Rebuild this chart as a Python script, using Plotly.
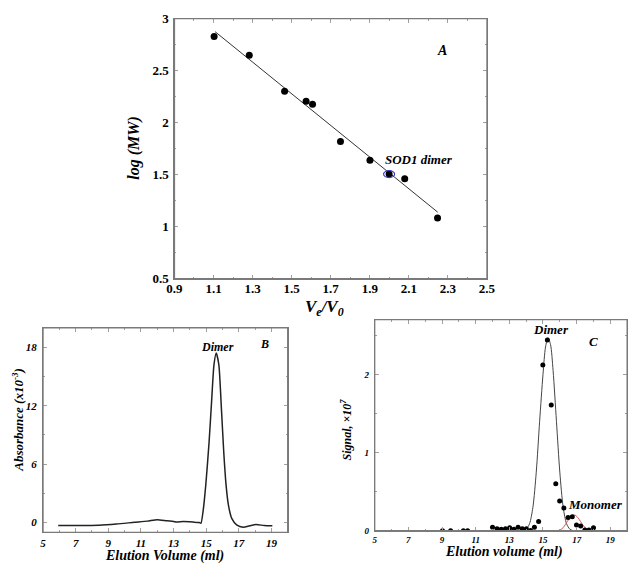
import plotly.graph_objects as go

# ---------------- Panel A data ----------------
a_ratio = [1.103, 1.283, 1.464, 1.574, 1.607, 1.750, 1.901, 1.999, 2.079, 2.247]
a_logmw = [2.829, 2.648, 2.303, 2.206, 2.178, 1.820, 1.640, 1.506, 1.462, 1.085]
a_fit_x = [1.108, 2.248]
a_fit_y = [2.875, 1.140]
sod_x = [1.999]
sod_y = [1.506]
a_xticks = [0.9, 1.1, 1.3, 1.5, 1.7, 1.9, 2.1, 2.3, 2.5]
a_xticklabels = ["0.9", "1.1", "1.3", "1.5", "1.7", "1.9", "2.1", "2.3", "2.5"]
a_yticks = [0.5, 1, 1.5, 2, 2.5, 3]
a_yticklabels = ["0.5", "1", "1.5", "2", "2.5", "3"]

# ---------------- Panel B data ----------------
b_vol = [5.93, 7.0, 8.42, 9.5, 10.6, 11.4, 12.0, 12.6, 13.0, 13.19, 13.6, 14.2, 14.58, 14.68,
         14.82, 14.98, 15.18, 15.34, 15.48, 15.62, 15.78, 15.94, 16.08, 16.22, 16.37, 16.57,
         16.87, 17.27, 17.67, 18.06, 18.56, 19.06]
b_abs = [-0.30, -0.30, -0.27, -0.15, 0.03, 0.15, 0.30, 0.18, 0.12, 0.05, 0.10, 0.05, 0.0, -0.07,
         1.26, 3.9, 8.25, 12.6, 16.2, 17.4, 16.2, 11.6, 7.25, 3.9, 1.76, 0.43,
         -0.23, -0.47, -0.33, -0.20, -0.30, -0.33]
b_xticks = [5, 7, 9, 11, 13, 15, 17, 19]
b_xticklabels = ["5", "7", "9", "11", "13", "15", "17", "19"]
b_yticks = [0, 6, 12, 18]
b_yticklabels = ["0", "6", "12", "18"]

# ---------------- Panel C data ----------------
c_vol = [9.03, 9.51, 10.27, 10.52, 12.0, 12.27, 12.52, 12.77, 13.02, 13.27, 13.52, 13.77, 14.01,
         14.26, 14.49, 14.74, 14.99, 15.26, 15.49, 15.76, 15.99, 16.24, 16.49, 16.74, 16.99,
         17.24, 17.49, 17.73, 18.0]
c_sig = [0.0, 0.0, 0.0, 0.0, 0.046, 0.025, 0.02, 0.025, 0.04, 0.02, 0.046, 0.025, 0.025,
         0.004, 0.046, 0.12, 2.12, 2.44, 1.61, 0.60, 0.38, 0.29, 0.17, 0.18, 0.075,
         0.06, 0.01, 0.01, 0.04]
dimer_fit_x = [13.8, 14.0, 14.2, 14.4, 14.6, 14.8, 15.0, 15.15, 15.3, 15.45, 15.6, 15.8, 16.0,
               16.2, 16.4, 16.6, 16.8]
dimer_fit_y = [0.0, 0.02, 0.09, 0.30, 0.75, 1.40, 2.00, 2.35, 2.47, 2.38, 2.05, 1.40, 0.75,
               0.30, 0.09, 0.02, 0.0]
mono_fit_x = [15.95, 16.2, 16.45, 16.7, 16.9, 17.1, 17.35, 17.6, 17.85]
mono_fit_y = [0.0, 0.04, 0.12, 0.19, 0.20, 0.16, 0.08, 0.02, 0.0]
c_xticks = [5, 7, 9, 11, 13, 15, 17, 19]
c_xticklabels = ["5", "7", "9", "11", "13", "15", "17", "19"]
c_yticks = [0, 1, 2]
c_yticklabels = ["0", "1", "2"]

FONT = "Liberation Serif"
LINE = "#7a7a7a"
TICK = "#a0a0a0"

fig = go.Figure()

# Panel A
fig.add_trace(go.Scatter(x=a_fit_x, y=a_fit_y, mode="lines",
                         line=dict(color="#333333", width=1), xaxis="x", yaxis="y",
                         showlegend=False, hoverinfo="skip"))
fig.add_trace(go.Scatter(x=a_ratio, y=a_logmw, mode="markers",
                         marker=dict(color="black", size=7), xaxis="x", yaxis="y",
                         showlegend=False))

# Panel B
fig.add_trace(go.Scatter(x=b_vol, y=b_abs, mode="lines",
                         line=dict(color="#222222", width=1.5, shape="spline", smoothing=0.6),
                         xaxis="x2", yaxis="y2", showlegend=False))

# Panel C
fig.add_trace(go.Scatter(x=dimer_fit_x, y=dimer_fit_y, mode="lines",
                         line=dict(color="#444444", width=1, shape="spline", smoothing=0.8),
                         xaxis="x3", yaxis="y3", showlegend=False))
fig.add_trace(go.Scatter(x=mono_fit_x, y=mono_fit_y, mode="lines",
                         line=dict(color="#d05050", width=1, shape="spline", smoothing=0.8),
                         xaxis="x3", yaxis="y3", showlegend=False))
fig.add_trace(go.Scatter(x=c_vol, y=c_sig, mode="markers",
                         marker=dict(color="black", size=5),
                         xaxis="x3", yaxis="y3", showlegend=False))


def axis(domain, rng, tickvals, ticktext, minor_dtick, anchor, fsize, italic, standoff):
    return dict(domain=domain, range=rng, anchor=anchor,
                tickmode="array", tickvals=tickvals, ticktext=ticktext,
                ticks="inside", ticklen=4, tickcolor=TICK, tickwidth=1,
                minor=dict(ticks="inside", ticklen=2, tickcolor=TICK, dtick=minor_dtick, showgrid=False),
                showline=True, linecolor=LINE, linewidth=1, mirror="allticks",
                showgrid=False, zeroline=False,
                tickfont=dict(family=FONT, size=fsize, color="black", weight="bold",
                              style="italic" if italic else "normal"),
                ticklabelstandoff=standoff)


W, H = 641, 579
def px(x0, x1):
    return [x0 / W, x1 / W]
def py(y_top, y_bot):
    return [1 - y_bot / H, 1 - y_top / H]

xa = axis(px(171, 492), [0.9, 2.5], a_xticks, a_xticklabels, 0.1, "y", 13, False, -2)
ya = axis(py(12, 279), [0.5, 3], a_yticks, a_yticklabels, 0.25, "x", 13, False, 2)
xb = axis(px(36, 287.3), [5, 20], b_xticks, b_xticklabels, 1, "y2", 11, True, 0)
yb = axis(py(329.3, 539.3), [-1, 20], b_yticks, b_yticklabels, 3, "x2", 11, True, 3)
xc = axis(px(376.7, 636), [5, 20], c_xticks, c_xticklabels, 1, "y3", 9, True, 0)
yc = axis(py(321, 537.7), [0, 2.7], c_yticks, c_yticklabels, 0.5, "x3", 9, True, 3)


def ann_font(s):
    return dict(family=FONT, size=s, color="black", weight="bold", style="italic")


def label(x, y, text, size, xref, yref, angle=0):
    return dict(x=x, y=y, xref=xref, yref=yref, text=text, showarrow=False,
                xanchor="center", yanchor="middle", textangle=angle, font=ann_font(size))


annotations = [
    # panel A
    label(2.27, 2.69, "A", 14, "x", "y"),
    label(2.15, 1.645, "SOD1 dimer", 13, "x", "y"),
    label(325 / W, 1 - 309 / H, "V<sub>e</sub>/V<sub>0</sub>", 17, "paper", "paper"),
    label(130 / W, 1 - 145 / H, "log (MW)", 16, "paper", "paper", -90),
    # panel B
    label(15.67, 18.0, "Dimer", 12, "x2", "y2"),
    label(18.56, 18.3, "B", 12, "x2", "y2"),
    label(161 / W, 1 - 564 / H, "Elution Volume (ml)", 14, "paper", "paper"),
    label(10 / W, 1 - 424 / H, "Absorbance (x10<sup>-3</sup>)", 13, "paper", "paper", -90),
    # panel C
    label(15.47, 2.57, "Dimer", 13, "x3", "y3"),
    label(17.98, 2.42, "C", 13, "x3", "y3"),
    label(18.14, 0.34, "Monomer", 13, "x3", "y3"),
    label(509 / W, 1 - 559 / H, "Elution volume (ml)", 14, "paper", "paper"),
    label(348 / W, 1 - 434 / H, "Signal, ×10<sup>7</sup>", 12, "paper", "paper", -90),
]

# plot frames (one per panel), placed on the same paper domains as the axes
doms = [(xa["domain"], ya["domain"]), (xb["domain"], yb["domain"]), (xc["domain"], yc["domain"])]
frames = [
    dict(type="rect", xref="paper", yref="paper", x0=dx[0], x1=dx[1], y0=dy[0], y1=dy[1],
         line=dict(color=LINE, width=1.3), fillcolor="rgba(0,0,0,0)", layer="above")
    for dx, dy in doms
]

shapes = frames + [
    dict(type="circle", xref="x", yref="y", xsizemode="pixel", ysizemode="pixel",
         xanchor=sod_x[0], yanchor=sod_y[0], x0=-5.5, x1=5.5, y0=-3.5, y1=3.5,
         line=dict(color="#3333cc", width=1.2)),
]

fig.update_layout(
    width=W, height=H, margin=dict(l=0, r=0, t=0, b=0),
    paper_bgcolor="white", plot_bgcolor="white",
    xaxis=xa, yaxis=ya, xaxis2=xb, yaxis2=yb, xaxis3=xc, yaxis3=yc,
    annotations=annotations, shapes=shapes, showlegend=False,
    font=dict(family=FONT),
)

fig.write_html("out.html")
